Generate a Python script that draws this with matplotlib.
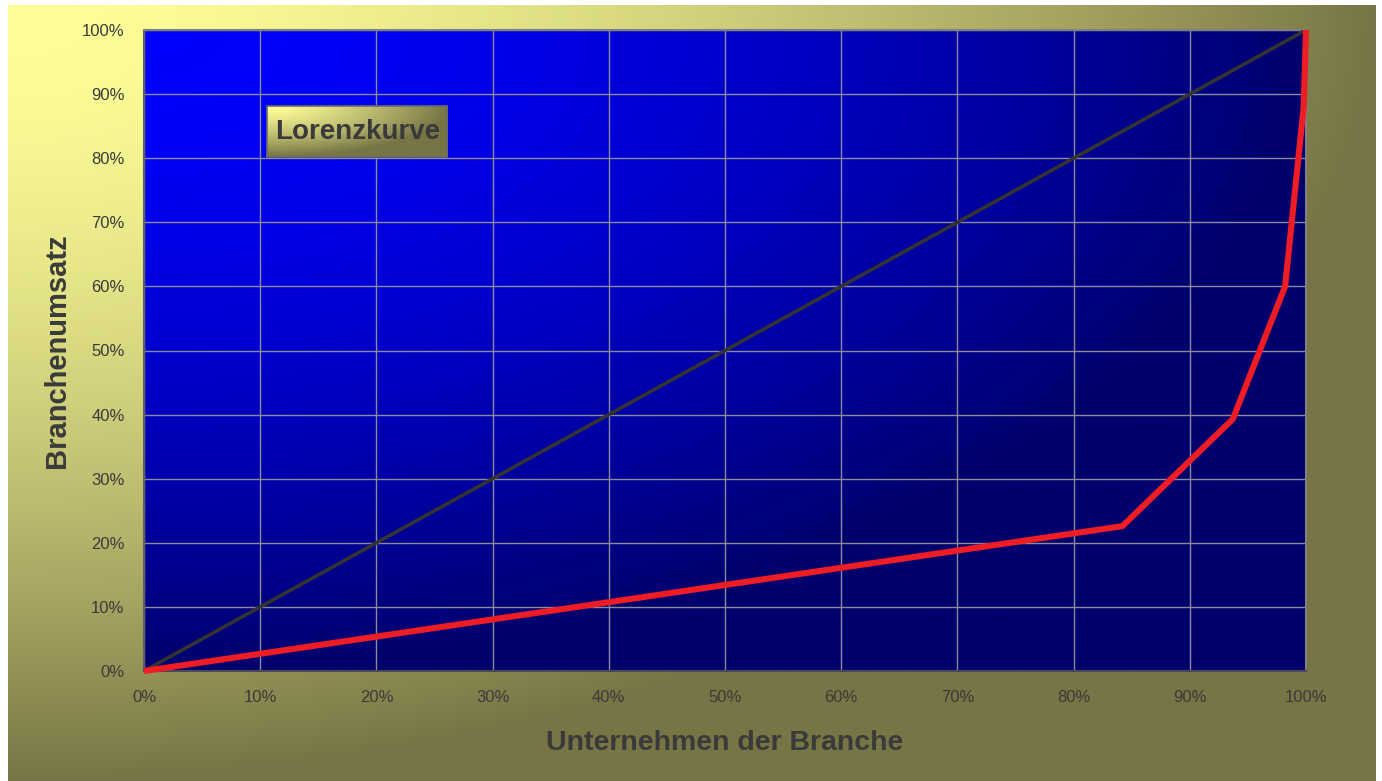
import numpy as np
import matplotlib
matplotlib.use("Agg")
import matplotlib.pyplot as plt
from matplotlib.patches import Rectangle
from matplotlib.ticker import PercentFormatter

# Lorenzkurve: Anteil Unternehmen (x) vs. Anteil Branchenumsatz (y), in %
unternehmen_pct = [0, 84.2, 93.7, 98.2, 99.8, 100]
umsatz_pct = [0, 22.6, 39.3, 60.0, 88.0, 100]
gleichverteilung = [0, 100]
tick_pct = list(range(0, 101, 10))

plt.rcParams['font.family'] = ['Liberation Sans', 'DejaVu Sans']
TEXT = '#3a3a3a'


def corner_gradient(c0, c1, nx=400, ny=300, power=1.6):
    # gradient starting in the top-left corner
    u = np.linspace(0, 1, nx)
    v = np.linspace(0, 1, ny)
    U, V = np.meshgrid(u, v)
    t = np.clip(np.sqrt(U**2 + V**2) ** power, 0, 1)[..., None]
    c0 = np.array(matplotlib.colors.to_rgb(c0))
    c1 = np.array(matplotlib.colors.to_rgb(c1))
    return c0 * (1 - t) + c1 * t


W, H = 1382, 781
fig = plt.figure(figsize=(W / 100, H / 100), dpi=100, facecolor='white')

# olive/yellow background panel
bg = fig.add_axes([8 / W, 0, (1376 - 8) / W, (H - 5) / H], zorder=-1)
bg.imshow(corner_gradient('#FFFF99', '#777545'), aspect='auto', interpolation='bilinear')
bg.axis('off')

ax = fig.add_axes([144 / W, 110 / H, 1162 / W, 641 / H])
ax.imshow(corner_gradient('#0000FF', '#00006C'), extent=[0, 100, 0, 100], aspect='auto',
          interpolation='bilinear', zorder=0)
ax.set_xlim(0, 100)
ax.set_ylim(0, 100)

ax.set_xticks(tick_pct)
ax.set_yticks(tick_pct)
ax.xaxis.set_major_formatter(PercentFormatter(decimals=0))
ax.yaxis.set_major_formatter(PercentFormatter(decimals=0))
ax.tick_params(length=0, labelsize=12, labelcolor=TEXT)
ax.tick_params(axis='y', pad=14)
ax.tick_params(axis='x', pad=14)
ax.grid(True, color='#8a8a9a', linewidth=1, zorder=1)

for name, sp in ax.spines.items():
    sp.set_color('#808080')
    sp.set_linewidth(1.5)
ax.spines['bottom'].set_color('#4a4a5a')
ax.spines['left'].set_color('#606060')

ax.plot(gleichverteilung, gleichverteilung, color='#333333', linewidth=2.6, zorder=3)
ax.plot(unternehmen_pct, umsatz_pct, color='#EE1C25', linewidth=4.4,
        solid_joinstyle='miter', solid_capstyle='butt', zorder=4, clip_on=False)

ax.set_xlabel('Unternehmen der Branche', fontsize=20.5, fontweight='bold', color=TEXT, labelpad=18)
ax.set_ylabel('Branchenumsatz', fontsize=21, fontweight='bold', color=TEXT, labelpad=8)

# title box with its own gradient
bx0, bx1, by0, by1 = 10.6, 26.1, 80.2, 88.1
ax.imshow(corner_gradient('#FFFF99', '#777545', 200, 60, 1.3), extent=[bx0, bx1, by0, by1],
          aspect='auto', interpolation='bilinear', zorder=5)
ax.add_patch(Rectangle((bx0, by0), bx1 - bx0, by1 - by0, fill=False,
                       edgecolor='#6a6a6a', linewidth=1.2, zorder=6))
ax.text((bx0 + bx1) / 2, (by0 + by1) / 2, 'Lorenzkurve', ha='center', va='center',
        fontsize=20, fontweight='bold', color=TEXT, zorder=7)
ax.set_xlim(0, 100)
ax.set_ylim(0, 100)

fig.savefig('out.png', dpi=100, facecolor='white')
